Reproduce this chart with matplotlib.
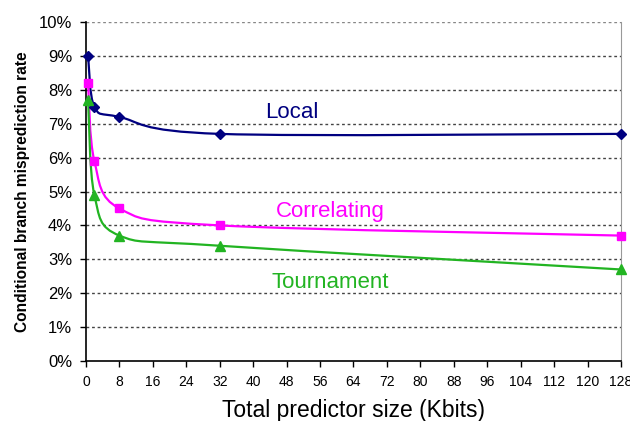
import numpy as np
import matplotlib
matplotlib.use("Agg")
import matplotlib.pyplot as plt
from matplotlib.path import Path
from matplotlib.patches import PathPatch

sizes = [0.5, 2, 8, 32, 128]
local = [9.0, 7.5, 7.2, 6.7, 6.7]
correlating = [8.2, 5.9, 4.5, 4.0, 3.7]
tournament = [7.7, 4.9, 3.7, 3.4, 2.7]
x_ticks = list(range(0, 129, 8))
y_ticks = list(range(0, 11))

plt.rcParams['font.family'] = ['Liberation Sans', 'DejaVu Sans']

fig = plt.figure(figsize=(6.3, 4.21), dpi=100)
ax = fig.add_axes([0.1365, 0.1425, 0.8492, 0.8052])
ax.set_xlim(0, 128)
ax.set_ylim(0, 10)


def smooth(ax, xs, ys, color):
    # Excel-style Bezier smoothing in display space
    pts = ax.transData.transform(np.column_stack([xs, ys]))
    n = len(pts)
    verts = [pts[0]]
    codes = [Path.MOVETO]
    for i in range(n - 1):
        p0 = pts[i - 1] if i > 0 else pts[i]
        p1 = pts[i]
        p2 = pts[i + 1]
        p3 = pts[i + 2] if i + 2 < n else pts[i + 1]
        c1 = p1 + (p2 - p0) / 6.0
        c2 = p2 - (p3 - p1) / 6.0
        verts += [c1, c2, p2]
        codes += [Path.CURVE4] * 3
    verts = ax.transData.inverted().transform(np.array(verts))
    patch = PathPatch(Path(verts, codes), fill=False, edgecolor=color, lw=1.6, zorder=3)
    ax.add_patch(patch)


series = [
    (local, '#000080', 'D', 5, 'Local', 42.8, 7.32),
    (correlating, '#FF00FF', 's', 5.5, 'Correlating', 45.4, 4.40),
    (tournament, '#22B422', '^', 6.5, 'Tournament', 44.4, 2.31),
]
for ys, col, mk, ms, name, tx, ty in series:
    smooth(ax, sizes, ys, col)
    ax.plot(sizes, ys, linestyle='none', marker=mk, markersize=ms, color=col,
            markeredgecolor=col, zorder=4, clip_on=False)
    ax.text(tx, ty, name, color=col, fontsize=16, va='center', ha='left')

ax.set_xticks(x_ticks)
ax.set_xticklabels([str(v) for v in x_ticks], fontsize=10)
ax.set_yticks(y_ticks)
ax.set_yticklabels([f"{v}%" for v in y_ticks], fontsize=12)
ax.tick_params(axis='both', direction='out', length=4, width=1, color='black')
ax.tick_params(axis='y', pad=6)
ax.tick_params(axis='x', pad=6)

for v in y_ticks[1:]:
    ax.axhline(v, color='#444444' if v < 10 else '#888888', lw=1,
               linestyle=(0, (2, 2)), zorder=1)

ax.spines['top'].set_visible(False)
ax.spines['right'].set_color('#999999')
ax.spines['left'].set_color('black')
ax.spines['bottom'].set_color('black')
ax.spines['left'].set_linewidth(1.2)
ax.spines['bottom'].set_linewidth(1.2)

ax.set_xlabel('Total predictor size (Kbits)', fontsize=16.5, va='baseline')
ax.xaxis.set_label_coords(0.5, -0.165)
ax.set_ylabel('Conditional branch misprediction rate', fontsize=11.2,
              fontweight='bold', va='center')
ax.yaxis.set_label_coords(-0.118, 0.5)

fig.savefig('out.png', dpi=100)
